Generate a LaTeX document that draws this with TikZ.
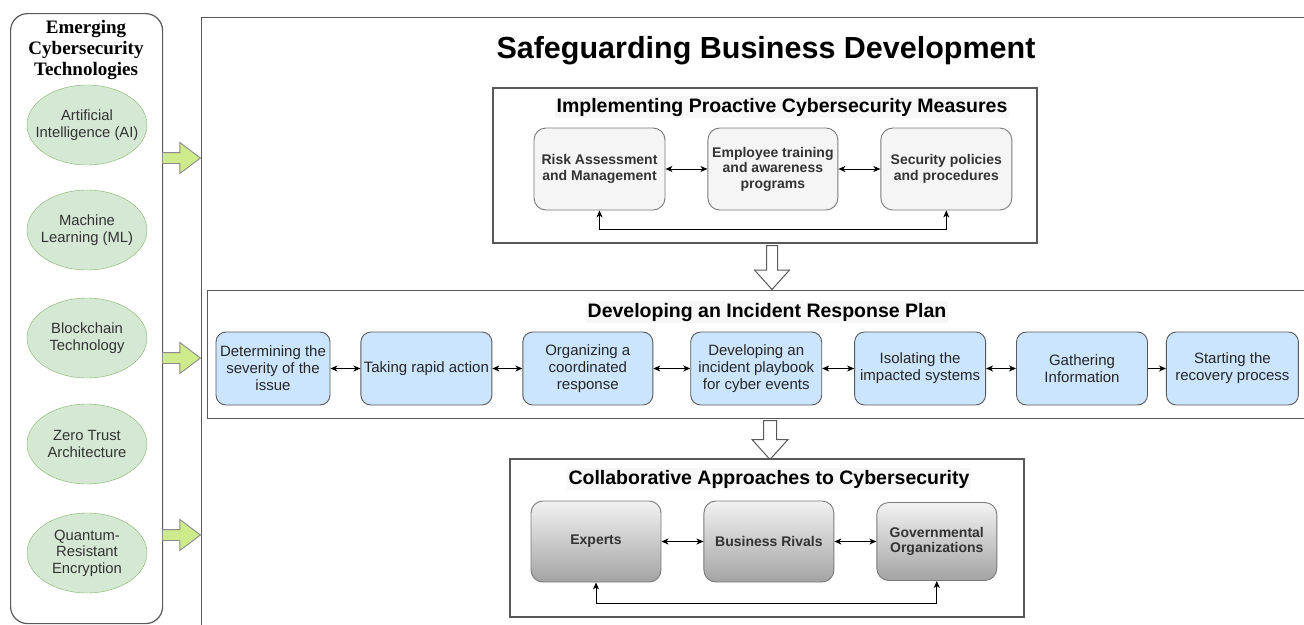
\documentclass[tikz,border=0pt]{standalone}
\usepackage{fontspec}
\setmainfont{Liberation Sans}
\newfontfamily\techserif{Liberation Serif}
\usetikzlibrary{arrows.meta,positioning,shapes.geometric,shapes.arrows}
\definecolor{sbline}{HTML}{595959}
\definecolor{sbtext}{HTML}{333333}
\definecolor{sbblue}{HTML}{CCE5FF}
\definecolor{sbgreen}{HTML}{D5E8D4}
\definecolor{sbgreenline}{HTML}{82B366}
\definecolor{sblime}{HTML}{CDEB8B}
\definecolor{sbgray}{HTML}{F5F5F5}

\begin{document}
\begin{tikzpicture}[x=1pt, y=-1pt,
  >={Stealth[length=7pt,width=6pt,inset=2pt]},
  frame/.style={rectangle, draw=sbline, line width=1.2pt, inner sep=0pt},
  techbox/.style={rectangle, rounded corners=17pt, draw=sbline, line width=1.2pt, inner sep=0pt},
  tech/.style={ellipse, draw=sbgreenline, fill=sbgreen, minimum width=120pt, minimum height=80pt,
               inner xsep=-14pt, inner ysep=0pt, align=center, text=sbtext,
               font=\fontsize{14.8}{16.5}\selectfont},
  tier/.style={rectangle, rounded corners=12pt, draw=sbline!80, fill=sbgray, line width=0.9pt,
               minimum width=131pt, minimum height=82pt, inner sep=0pt, align=center, text=sbtext,
               font=\fontsize{14}{15.5}\selectfont\bfseries},
  stepbox/.style={rectangle, rounded corners=10pt, draw=sbline, fill=sbblue, line width=0.9pt,
               minimum width=131pt, minimum height=73pt, inner sep=0pt, align=center, text=black!85,
               font=\fontsize{15}{17}\selectfont},
  partner/.style={rectangle, rounded corners=12pt, draw=sbline!80, top color=black!5, bottom color=black!36,
               line width=0.9pt, minimum width=130pt, minimum height=81pt, inner sep=0pt, align=center,
               text=sbtext, font=\fontsize{14}{15.5}\selectfont\bfseries},
  subhead/.style={anchor=base, fill=black!3, inner sep=2pt, font=\fontsize{19.5}{22}\selectfont\bfseries},
  link/.style={<->, line width=0.9pt},
  onelink/.style={->, line width=0.9pt},
  feed/.style={single arrow, anchor=tail, draw=sbline!70, fill=sblime, line width=0.9pt, inner xsep=0pt,
               inner ysep=5pt, minimum width=0pt, minimum height=38pt, single arrow head extend=10pt,
               single arrow tip angle=74},
  hollow/.style={single arrow, anchor=tail, draw=sbline, fill=white, line width=1pt, inner xsep=0pt,
               inner ysep=5pt, minimum width=0pt, single arrow head extend=12pt, single arrow tip angle=84,
               rotate=-90}
]
\fill[white] (0,0) rectangle (1304,624);
\useasboundingbox (0,0) rectangle (1304,624);

% outer frames
\node[frame, anchor=north west, minimum width=1120pt, minimum height=625pt] (safe) at (201,17) {};
\node[techbox, anchor=north west, minimum width=152pt, minimum height=610pt] (tech) at (10,13) {};
\node[align=center, font=\techserif\fontsize{19}{21}\selectfont\bfseries] (techtitle) at (86,50)
  {Emerging\\Cybersecurity\\Technologies};
\node[anchor=base, font=\fontsize{30.5}{35}\selectfont\bfseries] (safetitle) at (766,58)
  {Safeguarding Business Development};

% technologies
\node[tech] (ai) at (87,125) {Artificial\\Intelligence (AI)};
\node[tech] (ml) at (87,230) {Machine\\Learning (ML)};
\node[tech] (bc) at (87,338) {Blockchain\\Technology};
\node[tech] (zt) at (87,444) {Zero Trust\\Architecture};
\node[tech] (qr) at (87,553) {Quantum-\\Resistant\\Encryption};

\node[feed] (f1) at (162,158) {};
\node[feed] (f2) at (162,358) {};
\node[feed] (f3) at (162,535) {};

% proactive measures
\node[frame, minimum width=544pt, minimum height=155pt] (pro) at (765,165.5) {};
\node[subhead] (protitle) at (782,112) {Implementing Proactive Cybersecurity Measures};
\node[tier] (risk) at (599.5,169) {Risk Assessment\\and Management};
\node[tier, right=42pt of risk, minimum width=130pt] (train) {Employee training\\and awareness\\programs};
\node[tier, right=42pt of train] (policy) {Security policies\\and procedures};
\foreach \a/\b in {risk/train, train/policy} \draw[link] (\a) -- (\b);
\draw[link] (risk.south) -- ++(0,19) -| (policy.south);

\node[hollow, minimum height=44pt] (down1) at (772,245) {};

% incident response
\node[frame, anchor=north west, minimum width=1110pt, minimum height=128pt] (irp) at (207,290) {};
\node[subhead] (irptitle) at (767,317) {Developing an Incident Response Plan};
\node[stepbox, minimum width=114pt] (sev) at (273,368.5) {Determining the\\severity of the\\issue};
\node[stepbox, right=30pt of sev] (act) {Taking rapid action};
\node[stepbox, right=30pt of act, minimum width=130pt] (coord) {Organizing a\\coordinated\\response};
\node[stepbox, right=37pt of coord] (play) {Developing an\\incident playbook\\for cyber events};
\node[stepbox, right=32pt of play] (iso) {Isolating the\\impacted systems};
\node[stepbox, right=30pt of iso] (info) {Gathering\\Information};
\node[stepbox, right=18pt of info, minimum width=132pt] (recov) {Starting the\\recovery process};
\foreach \a/\b in {sev/act, act/coord, coord/play, play/iso, iso/info} \draw[link] (\a) -- (\b);
\draw[onelink] (info) -- (recov);

\node[hollow, minimum height=39pt, inner ysep=6pt, single arrow head extend=11.5pt] (down2) at (770,420) {};

% collaboration
\node[frame, minimum width=514pt, minimum height=158pt] (col) at (767,538) {};
\node[subhead] (coltitle) at (769,484) {Collaborative Approaches to Cybersecurity};
\node[partner] (expert) at (596,541.5) {Experts};
\node[partner, right=42pt of expert] (rival) {Business Rivals};
\node[partner, right=42pt of rival, minimum width=120pt, minimum height=78pt] (gov) {Governmental\\Organizations};
\foreach \a/\b in {expert/rival, rival/gov} \draw[link] (\a) -- (\b);
\draw[link] (expert.south) -- ++(0,21) -| (gov.south);
\end{tikzpicture}
\end{document}
